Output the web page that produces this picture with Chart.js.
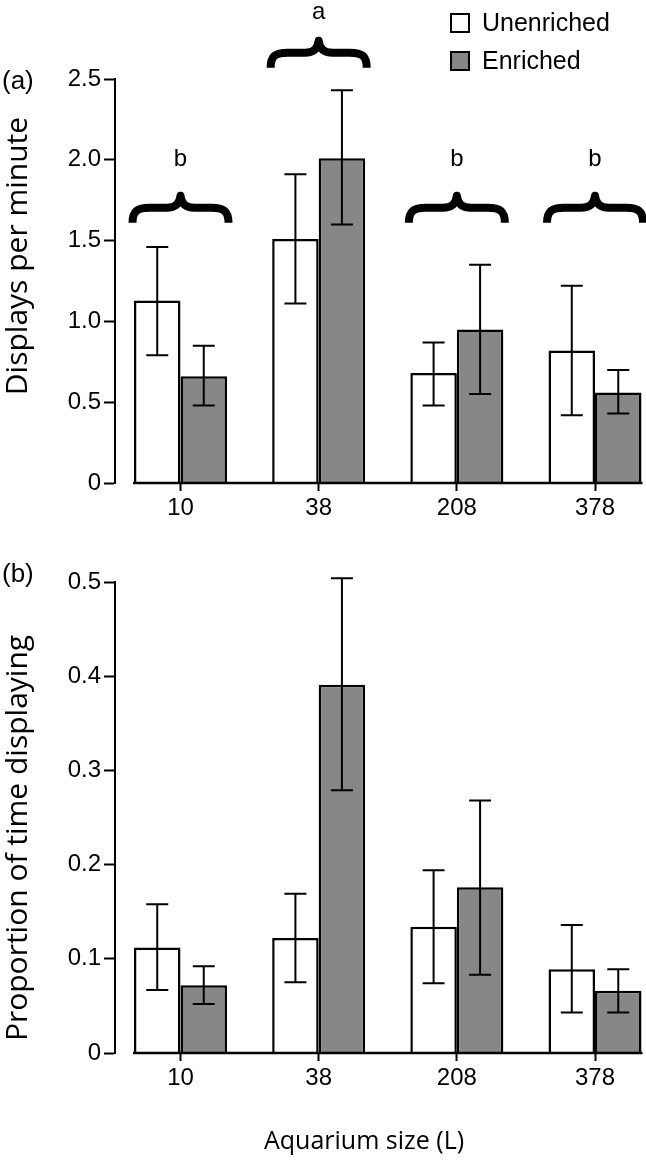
<!DOCTYPE html>
<html>
<head>
<meta charset="utf-8">
<script src="https://cdn.jsdelivr.net/npm/chart.js@4.4.0/dist/chart.umd.min.js"></script>
<style>
  html, body { margin: 0; padding: 0; background: #fff; }
  canvas { display: block; }
</style>
</head>
<body>
<canvas id="chart-displays" width="646" height="545"></canvas>
<canvas id="chart-proportion" width="646" height="616"></canvas>
<script>
// aquarium sizes (L)
const sizes = ['10', '38', '208', '378'];

// (a) displays per minute
const displaysUnenriched = [1.13, 1.51, 0.68, 0.82];
const displaysUnenrichedLow = [0.79, 1.11, 0.48, 0.42];
const displaysUnenrichedHigh = [1.46, 1.91, 0.87, 1.22];
const displaysEnriched = [0.66, 2.01, 0.95, 0.56];
const displaysEnrichedLow = [0.48, 1.60, 0.55, 0.43];
const displaysEnrichedHigh = [0.85, 2.43, 1.35, 0.70];
const displaysTicks = [0, 0.5, 1.0, 1.5, 2.0, 2.5];

// significance groups over (a)
const groupLetters = ['b', 'a', 'b', 'b'];
const braceValues = [1.61, 2.57, 1.61, 1.61];
const letterValues = [2.0, 2.91, 2.0, 2.0];

// (b) proportion of time displaying
const proportionUnenriched = [0.112, 0.122, 0.134, 0.089];
const proportionUnenrichedLow = [0.067, 0.075, 0.074, 0.043];
const proportionUnenrichedHigh = [0.158, 0.169, 0.194, 0.136];
const proportionEnriched = [0.072, 0.391, 0.176, 0.066];
const proportionEnrichedLow = [0.052, 0.279, 0.083, 0.043];
const proportionEnrichedHigh = [0.092, 0.504, 0.268, 0.089];
const proportionTicks = [0, 0.1, 0.2, 0.3, 0.4, 0.5];

const GREY = '#878787';
const TICK_FONT = "'Liberation Sans', Arial, sans-serif";
const TITLE_FONT = "'Open Sans', 'Noto Sans', sans-serif";

// error bars, baseline and the extra text of each panel
const extras = {
    id: 'extras',
    afterDatasetsDraw(chart, args, opts) {
        const ctx = chart.ctx;
        const y = chart.scales.y;
        const x = chart.scales.x;
        const area = chart.chartArea;
        ctx.save();
        ctx.strokeStyle = '#000';
        ctx.fillStyle = '#000';

        // error bars
        ctx.lineWidth = 2;
        chart.data.datasets.forEach((ds, d) => {
            chart.getDatasetMeta(d).data.forEach((bar, i) => {
                const lo = y.getPixelForValue(ds.errorLow[i]);
                const hi = y.getPixelForValue(ds.errorHigh[i]);
                ctx.beginPath();
                ctx.moveTo(bar.x, lo);
                ctx.lineTo(bar.x, hi);
                ctx.moveTo(bar.x - 11, lo);
                ctx.lineTo(bar.x + 11, lo);
                ctx.moveTo(bar.x - 11, hi);
                ctx.lineTo(bar.x + 11, hi);
                ctx.stroke();
            });
        });

        // baseline under the bars
        const first = chart.getDatasetMeta(0).data[0];
        const lastMeta = chart.getDatasetMeta(chart.data.datasets.length - 1).data;
        const last = lastMeta[lastMeta.length - 1];
        ctx.lineWidth = 2.5;
        ctx.beginPath();
        ctx.moveTo(first.x - first.width / 2 - 1, area.bottom);
        ctx.lineTo(last.x + last.width / 2 + 1, area.bottom);
        ctx.stroke();

        // panel tag
        ctx.font = '26px ' + TICK_FONT;
        ctx.textAlign = 'left';
        ctx.textBaseline = 'middle';
        ctx.fillText(opts.tag, 2, opts.tagY);

        // y title
        ctx.save();
        ctx.translate(opts.yTitleX, opts.yTitleY);
        ctx.rotate(-Math.PI / 2);
        ctx.font = '30px ' + TITLE_FONT;
        ctx.textAlign = 'center';
        ctx.fillText(opts.yTitle, 0, 0);
        ctx.restore();

        // x title
        if (opts.xTitle) {
            ctx.font = '25px ' + TITLE_FONT;
            ctx.textAlign = 'center';
            ctx.fillText(opts.xTitle, opts.xTitleX, opts.xTitleY);
        }

        // braces with group letters
        if (opts.letters) {
            opts.letters.forEach((letter, i) => {
                const cx = x.getPixelForValue(i);
                const yb = y.getPixelForValue(opts.braces[i]);
                drawBrace(ctx, cx, yb, 48);
                ctx.font = '24px ' + TICK_FONT;
                ctx.textAlign = 'center';
                ctx.textBaseline = 'middle';
                ctx.fillText(letter, cx, y.getPixelForValue(opts.letterAt[i]));
            });
        }

        // legend
        if (opts.legend) {
            chart.data.datasets.forEach((ds, d) => {
                const top = 14 + d * 38;
                ctx.fillStyle = ds.backgroundColor;
                ctx.fillRect(451, top, 18, 18);
                ctx.lineWidth = 2;
                ctx.strokeRect(451, top, 18, 18);
                ctx.fillStyle = '#000';
                ctx.font = '25px ' + TICK_FONT;
                ctx.textAlign = 'left';
                ctx.textBaseline = 'middle';
                ctx.fillText(ds.label, 482, top + 10);
            });
        }
        ctx.restore();
    }
};

function drawBrace(ctx, cx, yb, halfW) {
    const arm = yb - 15;
    const tip = yb - 27;
    ctx.save();
    ctx.lineWidth = 8;
    ctx.lineJoin = 'round';
    ctx.beginPath();
    ctx.moveTo(cx - halfW, yb);
    ctx.bezierCurveTo(cx - halfW, arm + 3, cx - halfW + 5, arm, cx - halfW + 17, arm);
    ctx.lineTo(cx - 14, arm);
    ctx.bezierCurveTo(cx - 5, arm, cx - 1, arm - 4, cx, tip);
    ctx.bezierCurveTo(cx + 1, arm - 4, cx + 5, arm, cx + 14, arm);
    ctx.lineTo(cx + halfW - 17, arm);
    ctx.bezierCurveTo(cx + halfW - 5, arm, cx + halfW, arm + 3, cx + halfW, yb);
    ctx.stroke();
    ctx.restore();
}

function toPoints(values) {
    return values.map((v, i) => ({ x: i, y: v }));
}

function createChart(canvasId, series, yMax, yTicks, layoutTop, xHeight, extraOpts) {
    const ctx = document.getElementById(canvasId);
    return new Chart(ctx, {
        type: 'bar',
        data: {
            datasets: [{
                label: 'Unenriched',
                data: toPoints(series.unenriched),
                errorLow: series.unenrichedLow,
                errorHigh: series.unenrichedHigh,
                backgroundColor: '#ffffff',
                borderColor: '#000',
                borderWidth: 2.5
            }, {
                label: 'Enriched',
                data: toPoints(series.enriched),
                errorLow: series.enrichedLow,
                errorHigh: series.enrichedHigh,
                backgroundColor: GREY,
                borderColor: '#000',
                borderWidth: 2.5
            }]
        },
        options: {
            responsive: false,
            animation: false,
            devicePixelRatio: 1,
            categoryPercentage: 0.673,
            barPercentage: 1,
            layout: { padding: { top: layoutTop, right: 4, left: 0, bottom: 0 } },
            plugins: {
                legend: { display: false },
                tooltip: { enabled: false },
                extras: extraOpts
            },
            scales: {
                x: {
                    type: 'linear',
                    min: -0.474,
                    max: 3.34,
                    offset: false,
                    afterBuildTicks: (scale) => { scale.ticks = sizes.map((s, i) => ({ value: i })); },
                    afterFit: (scale) => { scale.height = xHeight; },
                    ticks: {
                        callback: (v) => sizes[v],
                        color: '#000',
                        font: { family: TICK_FONT, size: 24 },
                        padding: 3,
                        maxRotation: 0
                    },
                    grid: {
                        offset: false,
                        drawOnChartArea: false,
                        drawTicks: true,
                        tickLength: 8,
                        tickWidth: 2,
                        tickColor: '#000'
                    },
                    border: { display: false }
                },
                y: {
                    min: 0,
                    max: yMax,
                    afterBuildTicks: (scale) => { scale.ticks = yTicks.map(v => ({ value: v })); },
                    afterFit: (scale) => { scale.width = 115; },
                    ticks: {
                        callback: (v) => v === 0 ? '0' : v.toFixed(1),
                        color: '#000',
                        font: { family: TICK_FONT, size: 24 },
                        padding: 3
                    },
                    grid: {
                        drawOnChartArea: false,
                        drawTicks: true,
                        tickLength: 11,
                        tickWidth: 2,
                        tickColor: '#000'
                    },
                    border: { display: true, color: '#000', width: 2 }
                }
            }
        },
        plugins: [extras]
    });
}

createChart('chart-displays', {
    unenriched: displaysUnenriched,
    unenrichedLow: displaysUnenrichedLow,
    unenrichedHigh: displaysUnenrichedHigh,
    enriched: displaysEnriched,
    enrichedLow: displaysEnrichedLow,
    enrichedHigh: displaysEnrichedHigh
}, 2.5, displaysTicks, 79, 62, {
    tag: '(a)',
    tagY: 82,
    yTitle: 'Displays per minute',
    yTitleX: 18,
    yTitleY: 256,
    letters: groupLetters,
    braces: braceValues,
    letterAt: letterValues,
    legend: true
});

createChart('chart-proportion', {
    unenriched: proportionUnenriched,
    unenrichedLow: proportionUnenrichedLow,
    unenrichedHigh: proportionUnenrichedHigh,
    enriched: proportionEnriched,
    enrichedLow: proportionEnrichedLow,
    enrichedHigh: proportionEnrichedHigh
}, 0.5, proportionTicks, 37, 108, {
    tag: '(b)',
    tagY: 30,
    yTitle: 'Proportion of time displaying',
    yTitleX: 18,
    yTitleY: 293,
    xTitle: 'Aquarium size (L)',
    xTitleX: 364,
    xTitleY: 597
});
</script>
</body>
</html>
